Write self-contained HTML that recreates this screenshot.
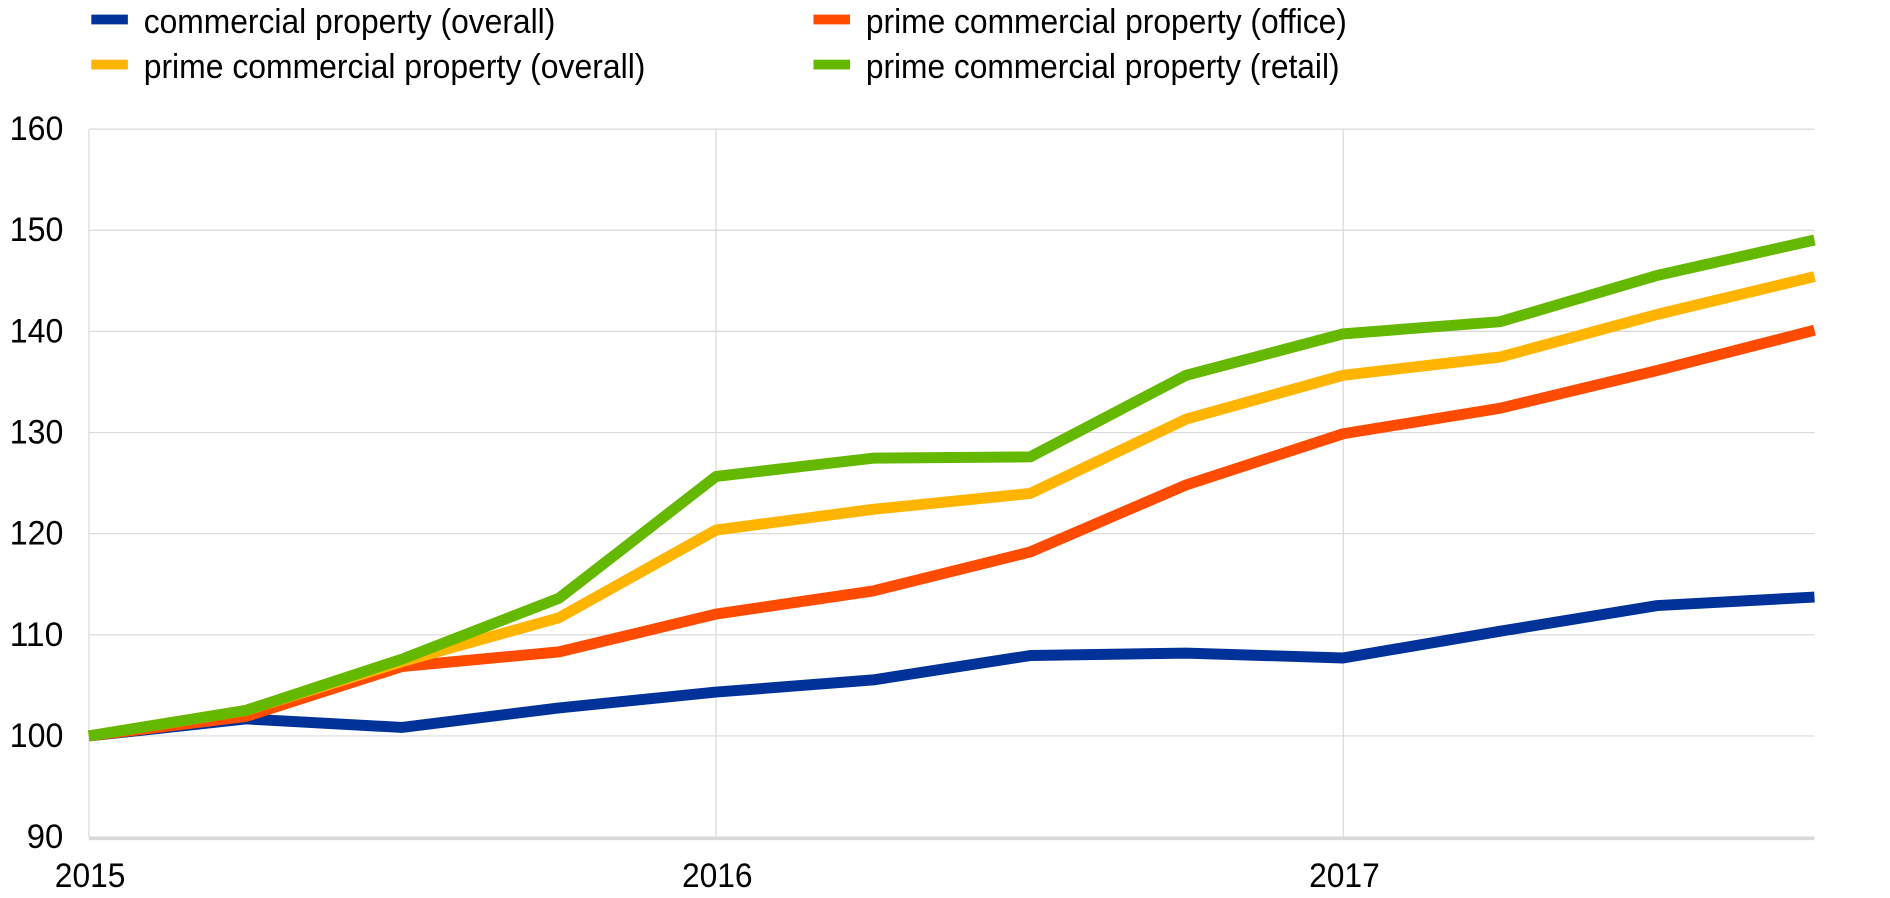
<!DOCTYPE html>
<html><head><meta charset="utf-8"><style>
html,body{margin:0;padding:0;background:#fff;}
svg{display:block;}
text{font-family:"Liberation Sans",Arial,sans-serif;fill:#000;}
</style></head><body>
<svg width="1890" height="898" viewBox="0 0 1552 737" preserveAspectRatio="none" xmlns="http://www.w3.org/2000/svg">
<g stroke="#d9d9d9" stroke-width="1">
<line x1="73" y1="106" x2="1490" y2="106"/>
<line x1="73" y1="189" x2="1490" y2="189"/>
<line x1="73" y1="272" x2="1490" y2="272"/>
<line x1="73" y1="355" x2="1490" y2="355"/>
<line x1="73" y1="438" x2="1490" y2="438"/>
<line x1="73" y1="521" x2="1490" y2="521"/>
<line x1="73" y1="604" x2="1490" y2="604"/>
<line x1="588" y1="106" x2="588" y2="687"/>
<line x1="1103" y1="106" x2="1103" y2="687"/>
<line x1="73" y1="106" x2="73" y2="687"/>
</g>
<line x1="73" y1="688" x2="1490" y2="688" stroke="#d9d9d9" stroke-width="3"/>
<g font-size="28">
<text x="8" y="115" textLength="44" lengthAdjust="spacingAndGlyphs">160</text>
<text x="8" y="198" textLength="44" lengthAdjust="spacingAndGlyphs">150</text>
<text x="8" y="281" textLength="44" lengthAdjust="spacingAndGlyphs">140</text>
<text x="8" y="364" textLength="44" lengthAdjust="spacingAndGlyphs">130</text>
<text x="8" y="447" textLength="44" lengthAdjust="spacingAndGlyphs">120</text>
<text x="8" y="530" textLength="44" lengthAdjust="spacingAndGlyphs">110</text>
<text x="8" y="613" textLength="44" lengthAdjust="spacingAndGlyphs">100</text>
<text x="22" y="696" textLength="30" lengthAdjust="spacingAndGlyphs">90</text>
</g>
<g font-size="28">
<text x="45" y="728" textLength="58" lengthAdjust="spacingAndGlyphs">2015</text>
<text x="560" y="728" textLength="58" lengthAdjust="spacingAndGlyphs">2016</text>
<text x="1075" y="728" textLength="58" lengthAdjust="spacingAndGlyphs">2017</text>
</g>
<g fill="none" stroke-width="9" stroke-linejoin="round">
<polyline stroke="#003299" points="73,604 202,590 330,597 459,581 588,568 717,558 846,538 974,536 1103,540 1232,518 1361,497 1490,490"/>
<polyline stroke="#ff4b00" points="73,604 202,588 330,547 459,535 588,504 717,485 846,453 974,398 1103,356 1232,335 1361,304 1490,271"/>
<polyline stroke="#ffb400" points="73,604 202,583 330,543 459,507 588,435 717,418 846,405 974,344 1103,308 1232,293 1361,258 1490,227"/>
<polyline stroke="#65b800" points="73,604 202,583 330,541 459,491 588,391 717,376 846,375 974,308 1103,274 1232,264 1361,226 1490,197"/>
</g>
<rect x="75" y="12" width="30" height="8" fill="#003299"/>
<rect x="75" y="49" width="30" height="8" fill="#ffb400"/>
<rect x="668" y="12" width="30" height="8" fill="#ff4b00"/>
<rect x="668" y="49" width="30" height="8" fill="#65b800"/>
<g font-size="28">
<text x="118" y="27" textLength="338" lengthAdjust="spacingAndGlyphs">commercial property (overall)</text>
<text x="118" y="64" textLength="412" lengthAdjust="spacingAndGlyphs">prime commercial property (overall)</text>
<text x="711" y="27" textLength="395" lengthAdjust="spacingAndGlyphs">prime commercial property (office)</text>
<text x="711" y="64" textLength="389" lengthAdjust="spacingAndGlyphs">prime commercial property (retail)</text>
</g>
</svg>
</body></html>
